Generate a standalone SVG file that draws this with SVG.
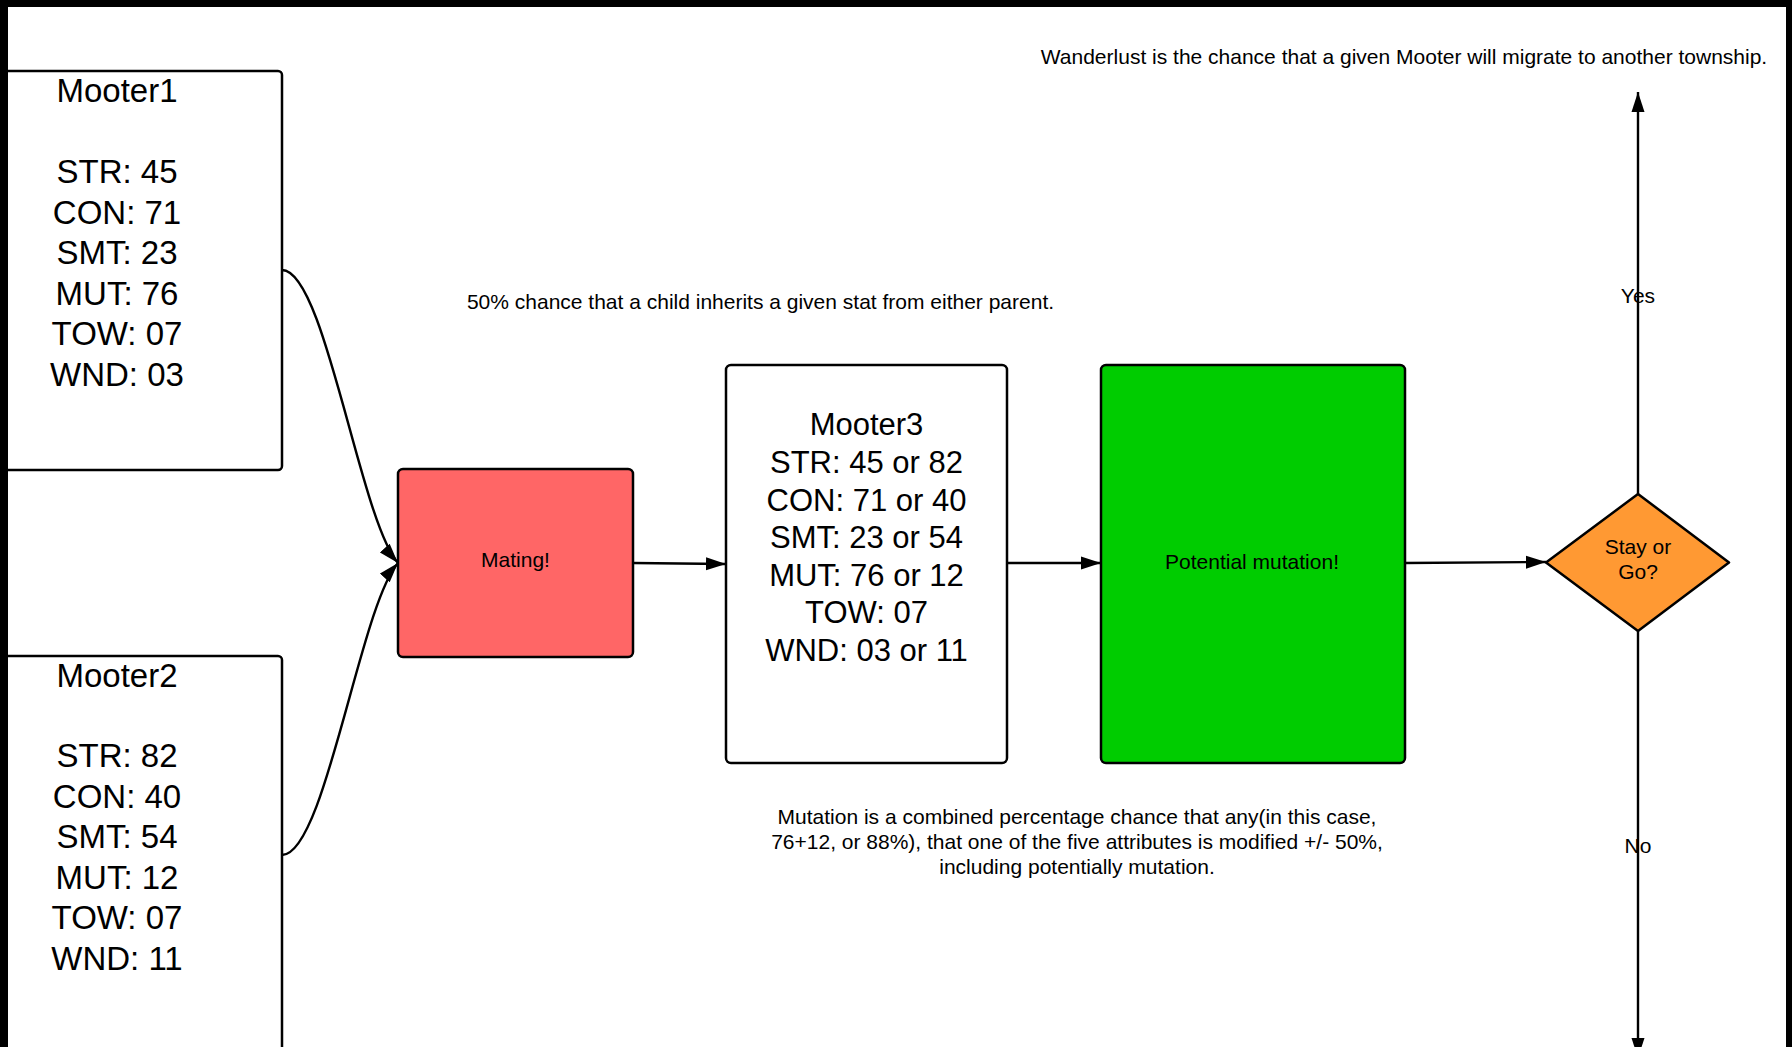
<svg xmlns="http://www.w3.org/2000/svg" width="1792" height="1047" viewBox="0 0 1792 1047">
  <style>
    text { font-family: "Liberation Sans", Arial, sans-serif; fill: #000; text-anchor: middle; }
    .big { font-size: 33px; }
    .mid { font-size: 31px; }
    .sm { font-size: 21px; }
    .box { stroke: #000; stroke-width: 2.5; }
    .conn { fill: none; stroke: #000; stroke-width: 2.4; marker-end: url(#arrow); }
  </style>
  <defs>
    <marker id="arrow" markerUnits="userSpaceOnUse" markerWidth="20" markerHeight="14" refX="20" refY="7" orient="auto">
      <path d="M0,0.5 L20,7 L0,13.5 z" fill="#000"/>
    </marker>
  </defs>
  <rect width="1792" height="1047" fill="#fff"/>

  <g id="mooter1">
    <rect class="box" x="-48" y="71" width="330" height="399" rx="4" fill="#fff"/>
    <text class="big" x="117" y="102">Mooter1</text>
    <text class="big" x="117" y="183">STR: 45</text>
    <text class="big" x="117" y="223.5">CON: 71</text>
    <text class="big" x="117" y="264">SMT: 23</text>
    <text class="big" x="117" y="304.5">MUT: 76</text>
    <text class="big" x="117" y="345">TOW: 07</text>
    <text class="big" x="117" y="385.5">WND: 03</text>
  </g>

  <g id="mooter2">
    <rect class="box" x="-48" y="656" width="330" height="420" rx="4" fill="#fff"/>
    <text class="big" x="117" y="687">Mooter2</text>
    <text class="big" x="117" y="767">STR: 82</text>
    <text class="big" x="117" y="807.5">CON: 40</text>
    <text class="big" x="117" y="848">SMT: 54</text>
    <text class="big" x="117" y="888.5">MUT: 12</text>
    <text class="big" x="117" y="929">TOW: 07</text>
    <text class="big" x="117" y="969.5">WND: 11</text>
  </g>

  <g id="mating">
    <rect class="box" x="398" y="469" width="235" height="188" rx="5" fill="#FF6666"/>
    <text class="sm" x="515.5" y="567">Mating!</text>
  </g>

  <g id="mooter3">
    <rect class="box" x="726" y="365" width="281" height="398" rx="5" fill="#fff"/>
    <text class="mid" x="866.5" y="435">Mooter3</text>
    <text class="mid" x="866.5" y="473">STR: 45 or 82</text>
    <text class="mid" x="866.5" y="510.5">CON: 71 or 40</text>
    <text class="mid" x="866.5" y="548">SMT: 23 or 54</text>
    <text class="mid" x="866.5" y="585.5">MUT: 76 or 12</text>
    <text class="mid" x="866.5" y="623">TOW: 07</text>
    <text class="mid" x="866.5" y="660.5">WND: 03 or 11</text>
  </g>

  <g id="mutation">
    <rect class="box" x="1101" y="365" width="304" height="398" rx="5" fill="#00CC00"/>
    <text class="sm" x="1252" y="568.5">Potential mutation!</text>
  </g>

  <g id="decision">
    <path class="box" d="M1638,494 L1729,562.5 L1638,631 L1546,562.5 Z" fill="#FF9933" stroke-linejoin="round"/>
    <text class="sm" x="1638" y="553.5">Stay or</text>
    <text class="sm" x="1638" y="579">Go?</text>
  </g>

  <g id="connectors">
    <path class="conn" d="M282,270 C325,270 360,520 398,563"/>
    <path class="conn" d="M282,855 C325,855 360,606 398,563"/>
    <path class="conn" d="M633,563 L726,564"/>
    <path class="conn" d="M1007,563 L1101,563"/>
    <path class="conn" d="M1405,563 L1546,562"/>
    <path class="conn" d="M1638,494 L1638,92"/>
    <path class="conn" d="M1638,631 L1638,1058"/>
    <text class="sm" x="1638" y="302.5">Yes</text>
    <text class="sm" x="1638" y="852.5">No</text>
  </g>

  <g id="notes">
    <text class="sm" x="1404" y="63.5">Wanderlust is the chance that a given Mooter will migrate to another township.</text>
    <text class="sm" x="760.5" y="309">50% chance that a child inherits a given stat from either parent.</text>
    <text class="sm" x="1077" y="823.5">Mutation is a combined percentage chance that any(in this case,</text>
    <text class="sm" x="1077" y="848.5">76+12, or 88%), that one of the five attributes is modified +/- 50%,</text>
    <text class="sm" x="1077" y="874">including potentially mutation.</text>
  </g>

  <g id="frame">
    <rect x="0" y="0" width="1792" height="7" fill="#000"/>
    <rect x="0" y="0" width="8" height="1047" fill="#000"/>
    <rect x="1786" y="0" width="6" height="1047" fill="#000"/>
  </g>
</svg>
